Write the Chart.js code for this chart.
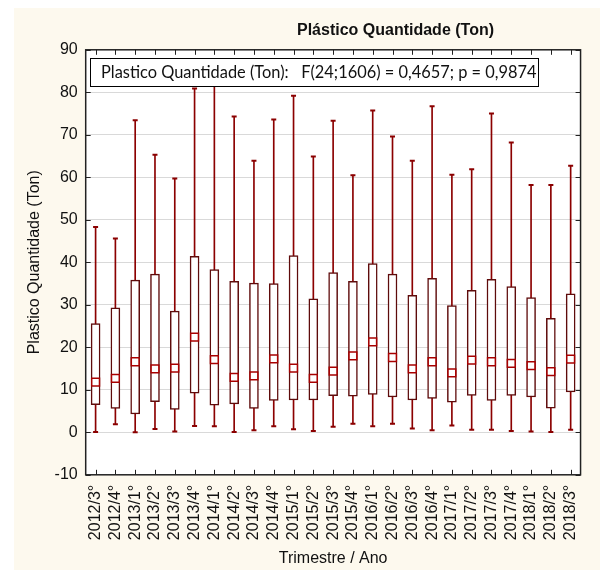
<!DOCTYPE html>
<html>
<head>
<meta charset="utf-8">
<title>Plástico Quantidade (Ton)</title>
<script src="https://cdn.jsdelivr.net/npm/chart.js@4.4.1/dist/chart.umd.min.js"></script>
<style>
    html, body { margin: 0; padding: 0; background: #ffffff; }
    #wrap { width: 600px; height: 570px; }
</style>
</head>
<body>
<div id="wrap"><canvas id="chart" width="600" height="570"></canvas></div>
<script>
// Quarters (Trimestre / Ano)
const quarters = [
    '2012/3°', '2012/4°', '2013/1°', '2013/2°', '2013/3°', '2013/4°', '2014/1°',
    '2014/2°', '2014/3°', '2014/4°', '2015/1°', '2015/2°', '2015/3°', '2015/4°',
    '2016/1°', '2016/2°', '2016/3°', '2016/4°', '2017/1°', '2017/2°', '2017/3°',
    '2017/4°', '2018/1°', '2018/2°', '2018/3°'
];

// Box plot values (Ton)
const whiskerMax = [48.3, 45.6, 73.4, 65.3, 59.7, 80.9, 86.0, 74.3, 63.9, 73.6, 79.2, 64.9, 73.3,
                    60.5, 75.7, 69.6, 63.9, 76.7, 60.6, 61.9, 75.0, 68.2, 58.2, 58.2, 62.7];
const boxUpper   = [25.6, 29.3, 35.8, 37.2, 28.5, 41.4, 38.3, 35.5, 35.1, 35.0, 41.6, 31.4, 37.6,
                    35.5, 39.7, 37.2, 32.2, 36.2, 29.8, 33.4, 36.0, 34.3, 31.7, 26.8, 32.6];
const medians    = [11.8, 12.7, 16.6, 14.9, 15.1, 22.4, 17.1, 12.9, 13.3, 17.3, 15.1, 12.7, 14.4,
                    18.0, 21.3, 17.6, 14.9, 16.6, 14.0, 17.0, 16.6, 16.2, 15.7, 14.3, 17.2];
const boxLower   = [6.5, 5.6, 4.3, 7.2, 5.4, 9.2, 6.4, 6.7, 5.6, 7.5, 7.6, 7.6, 8.6,
                    8.5, 8.9, 8.3, 7.6, 8.0, 7.1, 8.7, 7.5, 8.7, 8.3, 5.7, 9.5];
const whiskerMin = [0.1, 1.9, 0.0, 0.8, 0.2, 1.5, 1.4, 0.1, 0.5, 1.4, 0.7, 0.3, 1.3,
                    2.0, 1.4, 2.0, 0.9, 0.5, 1.6, 0.6, 0.6, 0.3, 0.2, 0.1, 0.6];

// Y axis ticks
const yTicks = [-10, 0, 10, 20, 30, 40, 50, 60, 70, 80, 90];

const chartTitle = 'Plástico Quantidade (Ton)';
const statsText = 'Plastico Quantidade (Ton):   F(24;1606) = 0,4657; p = 0,9874';

const FONT = '"Liberation Sans", Arial, sans-serif';
const WHISKER = '#8b0000';
const BOX_EDGE = '#5e0b0b';
const MEDIAN = '#a80000';

// Background, frame, inner ticks, title and the stats box
const statisticaLook = {
    id: 'statisticaLook',
    beforeDraw(chart) {
        const { ctx, chartArea: a, width, height } = chart;
        ctx.save();
        ctx.fillStyle = '#ffffff';
        ctx.fillRect(0, 0, width, height);
        ctx.fillStyle = '#fdf9ee';
        ctx.fillRect(14, 8, width - 14, height - 8);
        ctx.fillStyle = '#ffffff';
        ctx.fillRect(a.left, a.top, a.right - a.left, a.bottom - a.top);
        ctx.restore();
    },
    afterDatasetsDraw(chart) {
        const { ctx } = chart;
        ctx.save();
        ctx.fillStyle = '#ffffff';
        ctx.fillRect(90, 58, 449, 29);
        ctx.strokeStyle = '#000000';
        ctx.lineWidth = 1;
        ctx.strokeRect(90.5, 58.5, 448, 28);
        ctx.fillStyle = '#111111';
        ctx.font = '16.4px Lato, "Noto Sans", sans-serif';
        ctx.textBaseline = 'middle';
        ctx.textAlign = 'left';
        ctx.fillText(statsText, 101, 73);
        ctx.restore();
    },
    afterDraw(chart) {
        const { ctx, chartArea: a, scales } = chart;
        ctx.save();
        ctx.strokeStyle = '#222222';
        ctx.lineWidth = 1;
        ctx.beginPath();
        quarters.forEach((q, i) => {
            const px = Math.round(scales.x.getPixelForValue(i)) + 0.5;
            ctx.moveTo(px, a.bottom);
            ctx.lineTo(px, a.bottom - 5);
            ctx.moveTo(px, a.top);
            ctx.lineTo(px, a.top + 5);
        });
        yTicks.forEach(v => {
            const py = Math.round(scales.y.getPixelForValue(v)) + 0.5;
            ctx.moveTo(a.left, py);
            ctx.lineTo(a.left + 5, py);
            ctx.moveTo(a.right, py);
            ctx.lineTo(a.right - 5, py);
        });
        ctx.stroke();

        ctx.lineWidth = 1.5;
        ctx.strokeRect(a.left, a.top, a.right - a.left, a.bottom - a.top);

        ctx.fillStyle = '#111111';
        ctx.font = 'bold 16px ' + FONT;
        ctx.textAlign = 'center';
        ctx.textBaseline = 'middle';
        ctx.fillText(chartTitle, 395.5, 31);
        ctx.restore();
    }
};

const ctx = document.getElementById('chart').getContext('2d');

new Chart(ctx, {
    type: 'bar',
    data: {
        labels: quarters,
        datasets: [
            {
                label: 'Min-Max',
                data: quarters.map((q, i) => [whiskerMin[i], whiskerMax[i]]),
                backgroundColor: WHISKER,
                borderWidth: 0,
                barThickness: 1,
                grouped: false,
                order: 4
            },
            {
                label: 'Box',
                data: quarters.map((q, i) => [boxLower[i], boxUpper[i]]),
                backgroundColor: '#ffffff',
                borderColor: BOX_EDGE,
                borderWidth: 1.5,
                borderSkipped: false,
                barThickness: 9,
                grouped: false,
                order: 3
            },
            {
                type: 'line',
                label: 'Max',
                data: whiskerMax,
                showLine: false,
                pointStyle: 'line',
                pointRadius: 2.5,
                pointBorderWidth: 2,
                borderColor: WHISKER,
                order: 2
            },
            {
                type: 'line',
                label: 'Min',
                data: whiskerMin,
                showLine: false,
                pointStyle: 'line',
                pointRadius: 2.5,
                pointBorderWidth: 2,
                borderColor: WHISKER,
                order: 2
            },
            {
                type: 'line',
                label: 'Median',
                data: medians,
                showLine: false,
                pointStyle: 'rect',
                pointRadius: 5.5,
                pointBorderWidth: 1.5,
                pointBorderColor: MEDIAN,
                pointBackgroundColor: '#ffffff',
                order: 1
            }
        ]
    },
    options: {
        responsive: false,
        animation: false,
        devicePixelRatio: 1,
        layout: {
            padding: { top: 49.8, right: 7.3, bottom: 0, left: 0 }
        },
        scales: {
            x: {
                offset: true,
                grid: { display: false, drawTicks: false },
                border: { display: false },
                ticks: {
                    autoSkip: false,
                    minRotation: 90,
                    maxRotation: 90,
                    padding: 10,
                    color: '#111111',
                    font: { family: FONT, size: 16 }
                },
                title: {
                    display: true,
                    text: 'Trimestre / Ano',
                    color: '#111111',
                    font: { family: FONT, size: 16 },
                    padding: { top: 0, bottom: 1.5 }
                },
                afterFit: function(scale) {
                    scale.height = 95.2;
                }
            },
            y: {
                min: -10,
                max: 90,
                grid: { color: '#d9d9d9', drawTicks: false },
                border: { display: false },
                ticks: {
                    stepSize: 10,
                    padding: 8,
                    color: '#111111',
                    font: { family: FONT, size: 16 }
                },
                title: {
                    display: true,
                    text: 'Plastico Quantidade (Ton)',
                    color: '#111111',
                    font: { family: FONT, size: 16 },
                    padding: { top: 25.4, bottom: 0 }
                },
                afterFit: function(scale) {
                    scale.width = 85.7;
                }
            }
        },
        plugins: {
            legend: { display: false },
            tooltip: { enabled: false },
            title: { display: false }
        }
    },
    plugins: [statisticaLook]
});
</script>
</body>
</html>
